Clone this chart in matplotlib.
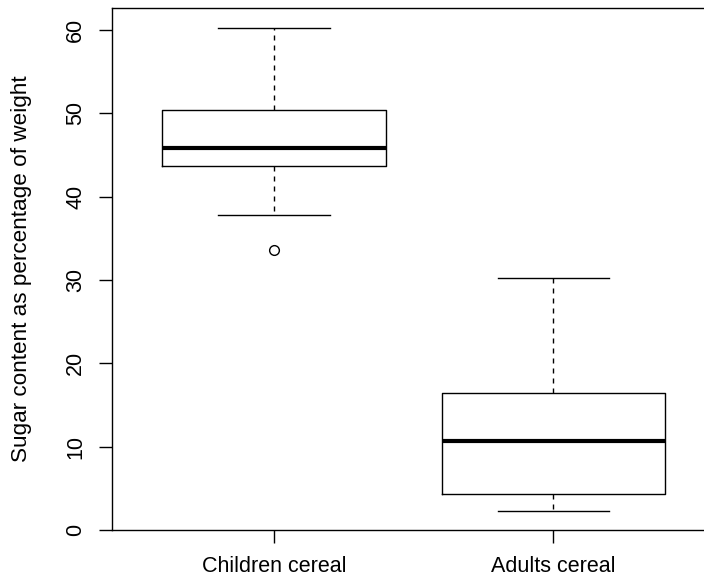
import matplotlib
matplotlib.use("Agg")
import matplotlib.pyplot as plt

# boxplot summary values
groups = ["Children cereal", "Adults cereal"]
medians = [45.9, 10.7]
q1 = [43.7, 4.3]
q3 = [50.4, 16.4]
whis_lo = [37.8, 2.3]
whis_hi = [60.3, 30.2]
outliers = [[33.6], []]

plt.rcParams['font.family'] = ['Liberation Sans', 'DejaVu Sans']

fig = plt.figure(figsize=(7.04, 5.84), dpi=100)
# the right edge of the R plot region falls outside the picture
ax = fig.add_axes([112 / 704, 54 / 584, 603.5 / 704, 522 / 584])

stats = []
for i in range(len(groups)):
    stats.append({
        "label": groups[i],
        "med": medians[i],
        "q1": q1[i],
        "q3": q3[i],
        "whislo": whis_lo[i],
        "whishi": whis_hi[i],
        "fliers": outliers[i],
    })

ax.bxp(stats, positions=[1, 2], widths=0.8, capwidths=0.4,
       boxprops=dict(color="black", linewidth=1.0),
       medianprops=dict(color="black", linewidth=3.0, solid_capstyle="butt"),
       whiskerprops=dict(color="black", linewidth=1.0, linestyle=(0, (3.6, 3.6))),
       capprops=dict(color="black", linewidth=1.0),
       flierprops=dict(marker="o", markerfacecolor="none", markeredgecolor="black",
                       markersize=7, markeredgewidth=1.0))

ax.set_xlim(0.42, 2.58)
ax.set_ylim(0, 62.64)
ax.set_yticks([0, 10, 20, 30, 40, 50, 60])
ax.set_xticks([1, 2])
ax.set_xticklabels(groups)

for lab in ax.get_yticklabels():
    lab.set_rotation(90)
    lab.set_va("center")

ax.tick_params(axis="both", direction="out", length=9.5, width=1.0,
               labelsize=15.5, color="black")
ax.tick_params(axis="y", pad=9)
ax.tick_params(axis="x", pad=9)

for s in ["left", "top", "bottom", "right"]:
    ax.spines[s].set_linewidth(1.0)

fig.text(22 / 704, 1 - 269 / 584, "Sugar content as percentage of weight",
         rotation=90, ha="center", va="center", fontsize=16.2)

fig.savefig("out.png", dpi=100)
